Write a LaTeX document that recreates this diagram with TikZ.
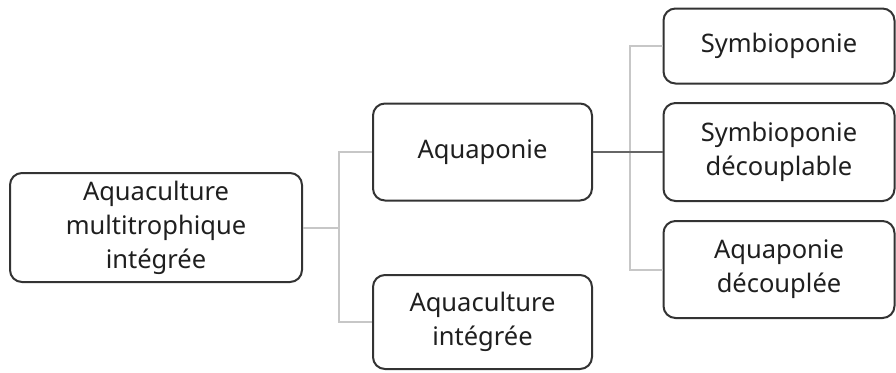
\documentclass[tikz,border=0pt]{standalone}
\usepackage{fontspec}
\setmainfont{Noto Sans}
\begin{document}
\begin{tikzpicture}[x=1pt,y=-1pt,
  box/.style={draw=black!80, line width=2pt, rounded corners=12pt, align=center,
    font=\fontsize{25.5}{34}\selectfont, text=black!88, inner sep=0pt},
  light/.style={draw=black!22, line width=2pt},
  darkline/.style={draw=black!60, line width=2pt}]
\useasboundingbox (0,0) rectangle (896,372);
\node[box, minimum width=292pt, minimum height=109pt] (root) at (156,227.5) {Aquaculture\\multitrophique\\intégrée};
\node[box, minimum width=219pt, minimum height=97pt] (aq) at (482.5,152) {Aquaponie};
\node[box, minimum width=219pt, minimum height=94pt] (ai) at (482.5,322) {Aquaculture\\intégrée};
\node[box, minimum width=231pt, minimum height=75pt] (sym) at (779,46) {Symbioponie};
\node[box, minimum width=231pt, minimum height=98pt] (sd) at (779,152) {Symbioponie\\découplable};
\node[box, minimum width=231pt, minimum height=97pt] (apd) at (779,269.5) {Aquaponie\\découplée};
\draw[light] (root.east) -- ++(36,0) coordinate (j1);
\draw[light] (aq.west) -- (aq.west -| j1) |- (ai.west);
\draw[light] (j1) -- (aq.west -| j1);
\coordinate (j2) at ([xshift=37pt]aq.east);
\draw[light] (sym.west) -| (j2) |- (apd.west);
\draw[darkline] (aq.east) -- (sd.west);
\end{tikzpicture}
\end{document}
